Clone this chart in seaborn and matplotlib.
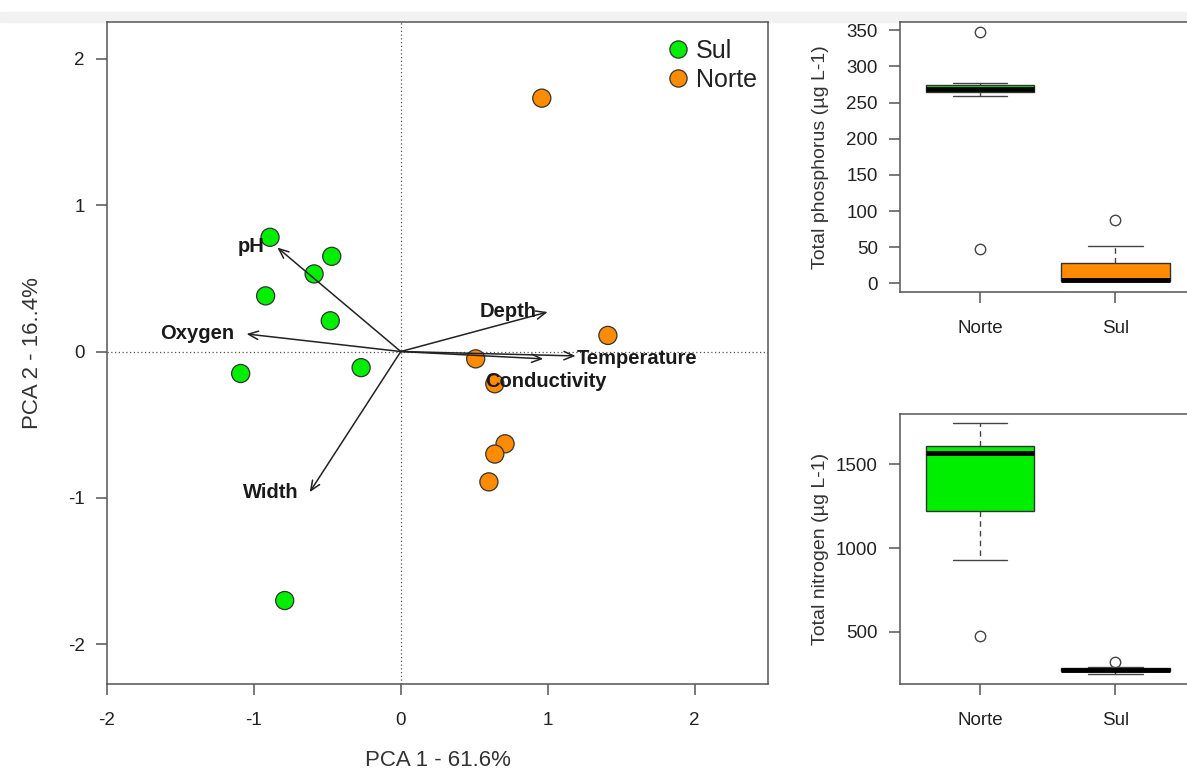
import numpy as np
import pandas as pd
import matplotlib
matplotlib.use("Agg")
import matplotlib.pyplot as plt
import matplotlib.patches as mpatches
import seaborn as sns

# ---------------- data ----------------
sul_pc1 = [-0.89, -0.47, -0.59, -0.92, -0.48, -0.27, -1.09, -0.79]
sul_pc2 = [0.78, 0.65, 0.53, 0.38, 0.21, -0.11, -0.15, -1.70]
norte_pc1 = [0.96, 1.41, 0.51, 0.64, 0.71, 0.64, 0.60]
norte_pc2 = [1.73, 0.11, -0.05, -0.22, -0.63, -0.70, -0.89]

var_names = ["pH", "Oxygen", "Width", "Depth", "Temperature", "Conductivity"]
load_x = [-0.84, -1.05, -0.62, 1.00, 1.19, 0.97]
load_y = [0.71, 0.12, -0.96, 0.27, -0.03, -0.05]

groups = ["Sul", "Norte"]
box_sites = ["Norte", "Sul"]
phos_norte = [47, 259, 269, 269, 271, 277, 347]
phos_sul = [3, 3, 3.3, 3.8, 4.2, 19.5, 52, 87]
nitro_norte = [472, 931, 1316, 1560, 1578, 1590, 1674, 1745]
nitro_sul = [247, 258, 264.7, 268, 274, 279, 287, 321]

xlabel_pca = "PCA 1 - 61.6%"
ylabel_pca = "PCA 2 - 16..4%"
ylabel_phos = "Total phosphorus (\u00b5g L-1)"
ylabel_nitro = "Total nitrogen (\u00b5g L-1)"

GREEN = "#00ee00"
ORANGE = "#ff8c00"

# ---------------- style ----------------
sns.set_style("ticks")
plt.rcParams["font.family"] = ["Liberation Sans", "DejaVu Sans"]
plt.rcParams["axes.unicode_minus"] = False

W, H = 1187, 771
fig = plt.figure(figsize=(W / 100, H / 100), dpi=100)

# light strip on top (screenshot band)
fig.patches.append(mpatches.Rectangle((0, 1 - 22 / H), 1, 10 / H, transform=fig.transFigure,
                                      color="#f2f2f2", zorder=-5))

def px_axes(x0, y0, x1, y1):
    return fig.add_axes([x0 / W, 1 - y1 / H, (x1 - x0) / W, (y1 - y0) / H])

SPINE = "#555555"

def style_axes(ax, tick_fs, xpad, ypad):
    for s in ax.spines.values():
        s.set_color(SPINE)
        s.set_linewidth(1.1)
        s.set_visible(True)
    ax.tick_params(axis="both", direction="out", length=8, width=1.1, color=SPINE,
                   labelsize=tick_fs, labelcolor="#222222")
    ax.tick_params(axis="x", pad=xpad)
    ax.tick_params(axis="y", pad=ypad)

# ---------------- PCA biplot ----------------
ax = px_axes(107, 22, 768, 684)
df = pd.DataFrame({
    "PC1": sul_pc1 + norte_pc1,
    "PC2": sul_pc2 + norte_pc2,
    "grupo": ["Sul"] * len(sul_pc1) + ["Norte"] * len(norte_pc1),
})
ax.axhline(0, color="#555555", lw=0.9, ls=(0, (1, 2)), zorder=1)
ax.axvline(0, color="#555555", lw=0.9, ls=(0, (1, 2)), zorder=1)
sns.scatterplot(data=df, x="PC1", y="PC2", hue="grupo", hue_order=groups,
                palette={"Sul": GREEN, "Norte": ORANGE}, s=170,
                edgecolor="#333333", linewidth=0.9, ax=ax, zorder=2)

label_style = {
    "pH": dict(offset=(-9, 1), ha="right", va="center"),
    "Oxygen": dict(offset=(-9, 0), ha="right", va="center"),
    "Width": dict(offset=(-8, 0), ha="right", va="center"),
    "Depth": dict(offset=(-8, 0), ha="right", va="center"),
    "Temperature": dict(offset=(1, -2), ha="left", va="center"),
    "Conductivity": dict(offset=(2, -16), ha="center", va="center"),
}
for name, lx, ly in zip(var_names, load_x, load_y):
    ax.annotate("", xy=(lx, ly), xytext=(0, 0),
                arrowprops=dict(arrowstyle="->,head_length=0.7,head_width=0.3",
                                color="#222222", lw=1.1, shrinkA=0, shrinkB=0),
                zorder=3)
    st = label_style[name]
    ax.annotate(name, xy=(lx, ly), xytext=st["offset"], textcoords="offset points",
                ha=st["ha"], va=st["va"], fontsize=14.5, fontweight="bold",
                color="#1a1a1a", zorder=4)

ax.set_xlim(-2, 2.5)
ax.set_ylim(-2.27, 2.25)
ax.set_xticks([-2, -1, 0, 1, 2])
ax.set_yticks([-2, -1, 0, 1, 2])
style_axes(ax, 13.5, 12, 8)
ax.set_xlabel(xlabel_pca, fontsize=16, color="#333333")
ax.set_ylabel(ylabel_pca, fontsize=16, color="#333333")
ax.xaxis.set_label_coords(0.5, -0.10)
ax.yaxis.set_label_coords(-0.097, 0.5)
leg = ax.legend(loc="upper right", bbox_to_anchor=(1.0, 0.991), frameon=False,
                fontsize=18, handletextpad=0.2, labelspacing=0.2,
                borderaxespad=0.05, borderpad=0.4, markerscale=0.95, handlelength=1.0)
for t in leg.get_texts():
    t.set_color("#222222")

# ---------------- boxplots ----------------
def draw_box(ax, norte_vals, sul_vals, ylim, yticks, ylabel):
    d = pd.DataFrame({
        "site": ["Norte"] * len(norte_vals) + ["Sul"] * len(sul_vals),
        "val": list(norte_vals) + list(sul_vals),
    })
    sns.boxplot(data=d, x="site", y="val", order=box_sites, hue="site",
                hue_order=box_sites, palette={"Norte": GREEN, "Sul": ORANGE},
                saturation=1, width=0.8, linecolor="#333333", linewidth=1.0, legend=False,
                whiskerprops=dict(linestyle=(0, (4, 3)), color="#444444", lw=1.0),
                capprops=dict(color="#444444", lw=1.0),
                medianprops=dict(color="black", lw=3.5),
                flierprops=dict(marker="o", markerfacecolor="none",
                                markeredgecolor="#444444", markersize=7.5,
                                markeredgewidth=1.0),
                ax=ax)
    ax.set_xlim(-0.59, 1.58)
    ax.set_ylim(*ylim)
    ax.set_yticks(yticks)
    style_axes(ax, 13.5, 12, 8)
    ax.set_xlabel("")
    ax.set_ylabel(ylabel, fontsize=14, color="#333333")
    ax.yaxis.set_label_coords(-0.241, 0.5)

ax2 = px_axes(900, 22, 1194, 292)
draw_box(ax2, phos_norte, phos_sul, (-12, 361.4), [0, 50, 100, 150, 200, 250, 300, 350],
         ylabel_phos)
ax3 = px_axes(900, 414, 1194, 684)
draw_box(ax3, nitro_norte, nitro_sul, (187.6, 1800.5), [500, 1000, 1500],
         ylabel_nitro)

fig.savefig("out.png", dpi=100)
